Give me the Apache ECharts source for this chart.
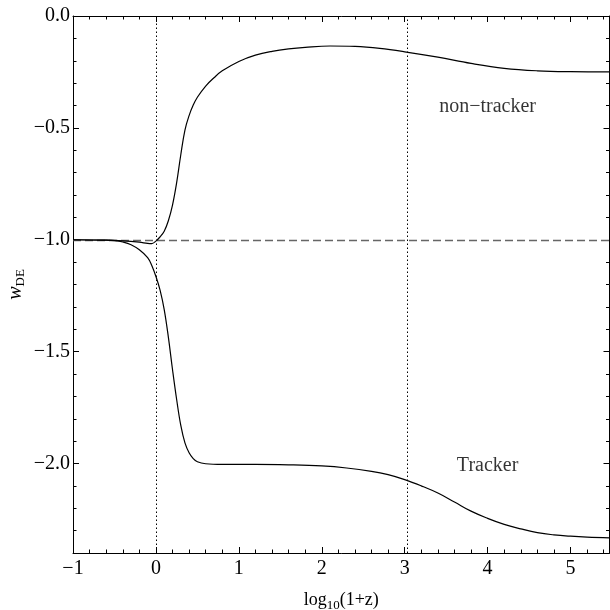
<!DOCTYPE html>
<html>
<head>
<meta charset="utf-8">
<script src="https://cdn.jsdelivr.net/npm/echarts@6/dist/echarts.min.js"></script>
<style>html,body{margin:0;padding:0;background:#fff}#c{width:610px;height:610px}</style>
</head>
<body>
<div id="c"></div>
<script>
// ---- data ----
const nonTracker = [
  [-1.0, -1.000], [-0.6, -1.002], [-0.4, -1.005], [-0.2, -1.011], [-0.1, -1.016],
  [-0.05, -1.017], [0.0, -1.006], [0.05, -0.987], [0.1, -0.962], [0.15, -0.915],
  [0.2, -0.845], [0.25, -0.745], [0.3, -0.620], [0.35, -0.510], [0.4, -0.445],
  [0.45, -0.398], [0.5, -0.363], [0.6, -0.313], [0.7, -0.276], [0.8, -0.245],
  [1.0, -0.203], [1.2, -0.175], [1.4, -0.158], [1.6, -0.147], [1.8, -0.140],
  [2.1, -0.134], [2.4, -0.136], [2.7, -0.145], [3.0, -0.160], [3.4, -0.184],
  [3.8, -0.212], [4.2, -0.234], [4.6, -0.245], [5.0, -0.249], [5.47, -0.250]
];
const tracker = [
  [-1.0, -1.000], [-0.6, -1.002], [-0.5, -1.004], [-0.4, -1.010], [-0.3, -1.022],
  [-0.2, -1.045], [-0.1, -1.080], [-0.05, -1.115], [0.0, -1.164], [0.05, -1.225],
  [0.1, -1.312], [0.15, -1.435], [0.2, -1.580], [0.25, -1.714], [0.3, -1.830],
  [0.35, -1.908], [0.4, -1.952], [0.45, -1.978], [0.5, -1.992], [0.6, -2.001],
  [0.8, -2.004], [1.2, -2.004], [1.6, -2.006], [2.0, -2.011], [2.3, -2.020],
  [2.6, -2.035], [2.8, -2.050], [3.0, -2.072], [3.2, -2.100], [3.4, -2.132],
  [3.6, -2.172], [3.8, -2.213], [4.0, -2.245], [4.2, -2.272], [4.4, -2.292],
  [4.6, -2.309], [4.8, -2.319], [5.0, -2.325], [5.2, -2.329], [5.47, -2.332]
];
const verticalMarks = [0, 3.03];
const horizontalMark = -1;
const curveLabels = [
  {name: 'non\u2212tracker', pos: [4.0, -0.406]},
  {name: 'Tracker', pos: [4.0, -2.009]}
];
const xRange = [-1, 5.47];
const yRange = [-2.4, 0];
const xMajorTicks = [-1, 0, 1, 2, 3, 4, 5];
const xMinorTicks = [-0.8, -0.6, -0.4, -0.2, 0.2, 0.4, 0.6, 0.8, 1.2, 1.4, 1.6, 1.8,
  2.2, 2.4, 2.6, 2.8, 3.2, 3.4, 3.6, 3.8, 4.2, 4.4, 4.6, 4.8, 5.2, 5.4];
const yMajorTicks = [-2.0, -1.5, -1.0, -0.5, 0.0];
const yMinorTicks = [-2.3, -2.2, -2.1, -1.9, -1.8, -1.7, -1.6, -1.4, -1.3, -1.2, -1.1,
  -0.9, -0.8, -0.7, -0.6, -0.4, -0.3, -0.2, -0.1];

// ---- chart ----
const FONT = 'Liberation Serif';
const MINUS = '\u2212';
function fmtY(v) { const s = Math.abs(v).toFixed(1); return v < 0 ? MINUS + s : s; }
function fmtX(v) { return v < 0 ? MINUS + Math.abs(v) : String(v); }

function xAx(pos, ticks, len, labels, line) {
  return {
    type: 'value', position: pos, min: xRange[0], max: xRange[1],
    axisLine: {show: line, onZero: false, lineStyle: {color: '#000', width: 1}},
    axisTick: {show: true, inside: true, length: len, customValues: ticks, lineStyle: {color: '#000', width: 1}},
    axisLabel: {show: labels, customValues: xMajorTicks, formatter: fmtX, margin: 6,
      color: '#000', fontFamily: FONT, fontSize: 20},
    splitLine: {show: false}
  };
}
function yAx(pos, ticks, len, labels, line) {
  return {
    type: 'value', position: pos, min: yRange[0], max: yRange[1],
    axisLine: {show: line, onZero: false, lineStyle: {color: '#000', width: 1}},
    axisTick: {show: true, inside: true, length: len, customValues: ticks, lineStyle: {color: '#000', width: 1}},
    axisLabel: {show: labels, customValues: yMajorTicks, formatter: fmtY, margin: 3,
      color: '#000', fontFamily: FONT, fontSize: 20},
    splitLine: {show: false}
  };
}

const xAxes = [
  xAx('bottom', xMajorTicks, 6, true, true),
  xAx('bottom', xMinorTicks, 3.5, false, false),
  xAx('top', xMajorTicks, 6, false, true),
  xAx('top', xMinorTicks, 3.5, false, false)
];
xAxes[0].name = 'log{s|10}(1+z)';
xAxes[0].nameLocation = 'middle';
xAxes[0].nameGap = 36;
xAxes[0].nameMoveOverlap = false;
xAxes[0].nameTextStyle = {color: '#000', fontFamily: FONT, fontSize: 18,
  rich: {s: {fontFamily: FONT, fontSize: 13, color: '#000', padding: [10, 0, 0, 0]}}};

const yAxes = [
  yAx('left', yMajorTicks, 6, true, true),
  yAx('left', yMinorTicks, 3.5, false, false),
  yAx('right', yMajorTicks, 6, false, true),
  yAx('right', yMinorTicks, 3.5, false, false)
];
yAxes[0].name = '{w|w}{s|DE}';
yAxes[0].nameLocation = 'middle';
yAxes[0].nameRotate = 90;
yAxes[0].nameGap = 46;
yAxes[0].nameMoveOverlap = false;
yAxes[0].nameTextStyle = {color: '#000', fontFamily: FONT, fontSize: 18,
  rich: {
    w: {fontFamily: FONT, fontSize: 20, fontStyle: 'italic', color: '#000'},
    s: {fontFamily: FONT, fontSize: 13, color: '#000', padding: [10, 0, 0, 0]}
  }};

const chart = echarts.init(document.getElementById('c'), null, {renderer: 'canvas'});
chart.setOption({
  animation: false,
  backgroundColor: '#fff',
  grid: {left: 73, right: 0.5, top: 16, bottom: 57, containLabel: false, outerBoundsMode: 'none'},
  xAxis: xAxes,
  yAxis: yAxes,
  series: [
    {
      type: 'line', name: 'non-tracker', data: nonTracker, showSymbol: false, smooth: 0.4,
      lineStyle: {color: '#000', width: 1.2}, z: 5,
      markLine: {
        silent: true, symbol: 'none', label: {show: false},
        data: verticalMarks.map(v => ({xAxis: v, lineStyle: {type: [1.5, 2.5], color: '#000', width: 1}}))
          .concat([{yAxis: horizontalMark, lineStyle: {type: [8, 4], color: '#666', width: 1.4}}])
      }
    },
    {
      type: 'line', name: 'Tracker', data: tracker, showSymbol: false, smooth: 0.4,
      lineStyle: {color: '#000', width: 1.2}, z: 5
    },
    {
      type: 'scatter', symbolSize: 0, silent: true,
      data: curveLabels.map(d => ({value: d.pos, name: d.name})),
      label: {show: true, position: 'inside', formatter: p => p.name,
        color: '#000', fontFamily: FONT, fontSize: 20}
    }
  ]
});
</script>
</body>
</html>
